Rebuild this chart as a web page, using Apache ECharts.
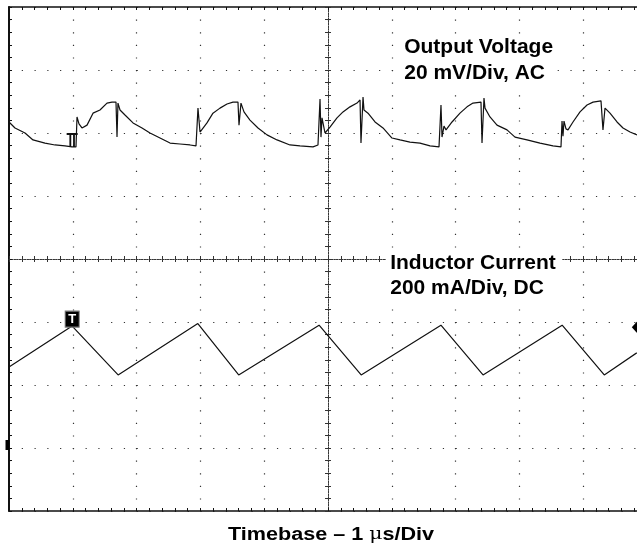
<!DOCTYPE html>
<html>
<head>
<meta charset="utf-8">
<title>Output Voltage and Inductor Current</title>
<script src="https://cdn.jsdelivr.net/npm/echarts@6/dist/echarts.min.js"></script>
<style>
  html, body { margin: 0; padding: 0; background: #fff; }
  #chart { width: 637px; height: 545px; }
</style>
</head>
<body>
<div id="chart"></div>
<script>
// Output voltage ripple, AC coupled (time in µs, voltage in mV)
const voltageTime = [
  -5.000, -4.906, -4.749, -4.624, -4.436, -4.279, -4.122, -4.013, -3.950, -3.934,
  -3.903, -3.856, -3.777, -3.683, -3.574, -3.464, -3.386, -3.323, -3.307, -3.292,
  -3.260, -3.182, -3.056, -2.915, -2.790, -2.633, -2.476, -2.320, -2.163, -2.069,
  -2.038, -2.006, -1.897, -1.803, -1.693, -1.583, -1.489, -1.411, -1.395, -1.364,
  -1.317, -1.223, -1.097, -0.956, -0.799, -0.596, -0.439, -0.235, -0.157, -0.125,
  -0.110, -0.094, -0.047, 0.031, 0.141, 0.235, 0.345, 0.455, 0.502, 0.517,
  0.549, 0.564, 0.627, 0.737, 0.862, 1.003, 1.129, 1.285, 1.442, 1.599,
  1.740, 1.771, 1.787, 1.818, 1.850, 1.944, 2.069, 2.179, 2.273, 2.398,
  2.414, 2.445, 2.461, 2.539, 2.649, 2.806, 2.931, 3.119, 3.323, 3.527,
  3.652, 3.668, 3.683, 3.699, 3.730, 3.762, 3.840, 3.950, 4.060, 4.154,
  4.279, 4.310, 4.342, 4.420, 4.530, 4.624, 4.734, 4.843
];
const voltageMv = [
  3.5, 1.6, 0.0, -2.2, -3.2, -3.8, -4.1, -4.4, -4.4, 5.1,
  2.9, 1.6, 2.5, 6.3, 7.3, 9.5, 9.8, 9.8, -1.3, 9.5,
  7.3, 5.7, 3.2, 1.6, 0.0, -1.6, -3.2, -3.5, -3.8, -4.1,
  7.9, 0.3, 3.2, 6.3, 7.9, 9.2, 9.8, 9.8, 2.5, 9.5,
  6.7, 4.1, 1.6, -0.6, -2.2, -3.8, -4.1, -4.4, -3.8, 10.8,
  -1.3, 4.8, 0.0, 1.9, 4.8, 6.7, 8.3, 9.5, 10.5, -3.2,
  11.4, 7.3, 6.3, 3.5, 1.6, -1.6, -2.2, -2.9, -3.2, -4.1,
  -4.4, 8.9, -1.3, 2.2, 1.0, 3.5, 6.3, 8.3, 9.5, 9.8,
  -3.2, 11.1, 7.9, 5.1, 2.5, 1.0, -1.3, -2.2, -3.2, -4.1,
  -4.4, 3.8, -1.0, 3.8, 1.3, 1.0, 3.5, 6.7, 8.9, 9.8,
  10.2, 1.0, 7.9, 6.3, 3.5, 1.6, 0.3, -0.6
];

// Inductor current, DC coupled (time in µs, current in mA)
const currentTime = [-5.00, -4.01, -3.29, -2.04, -1.40, -0.14, 0.52, 1.77, 2.43, 3.67, 4.33, 4.84];
const currentMa   = [257, 387, 232, 395, 232, 390, 232, 390, 232, 390, 232, 302];

// Trigger point and trigger level
const triggerTime = -4.01;
const triggerLevelMa = 383;

// Screen: 10 × 8 divisions
const timeRange = [-5, 5];         // 1 µs/div
const divRange = [-4, 4];          // vertical divisions
const voltageRange = [-120, 40];   // 20 mV/div
const currentRange = [-200, 1400]; // 200 mA/div

const labels = {
  vTitle: 'Output Voltage',
  vScale: '20 mV/Div, AC',
  iTitle: 'Inductor Current',
  iScale: '200 mA/Div, DC',
  timebase: 'Timebase – 1 μs/Div'
};

const zip = (a, b) => a.map((v, i) => [v, b[i]]);

const INK = '#111';
const DOT = '#333';
const FONT = '"Liberation Sans", Arial, Helvetica, sans-serif';

const hidden = { show: false };

function borderX(position) {
  return {
    type: 'value', gridIndex: 0, position,
    min: timeRange[0], max: timeRange[1], interval: 1,
    axisLine: { show: true, onZero: false, lineStyle: { color: INK, width: 1.5 } },
    axisTick: { show: true, inside: true, length: 3, lineStyle: { color: INK } },
    minorTick: { show: true, splitNumber: 5, length: 3, lineStyle: { color: INK } },
    axisLabel: hidden,
    splitLine: position === 'bottom'
      ? { show: true, lineStyle: { color: DOT, width: 1.2, type: [1.2, 11.4] } }
      : hidden
  };
}

function centerX(inside) {
  return {
    type: 'value', gridIndex: 0, position: 'bottom',
    min: timeRange[0], max: timeRange[1], interval: 1,
    axisLine: { show: true, onZero: true, onZeroAxisIndex: 0,
      lineStyle: { color: DOT, width: 1, type: [1.2, 1.4] } },
    axisTick: { show: true, inside, length: 3, lineStyle: { color: DOT } },
    minorTick: { show: true, splitNumber: 5, length: 3, lineStyle: { color: DOT } },
    axisLabel: hidden, splitLine: hidden
  };
}

function centerY(inside) {
  return {
    type: 'value', gridIndex: 0, position: 'left',
    min: divRange[0], max: divRange[1], interval: 1,
    axisLine: { show: true, onZero: true, onZeroAxisIndex: 0,
      lineStyle: { color: DOT, width: 1, type: [1.2, 1.4] } },
    axisTick: { show: true, inside, length: 3, lineStyle: { color: DOT } },
    minorTick: { show: true, splitNumber: 5, length: 3, lineStyle: { color: DOT } },
    axisLabel: hidden, splitLine: hidden
  };
}

// Channel captions sit on a white plate that hides the graticule behind them
function caption(text, x, y) {
  return {
    type: 'text', x, y, scaleX: 1.05, silent: true, z: 100,
    style: {
      text, font: 'bold 20px ' + FONT, fill: '#000',
      verticalAlign: 'middle', textVerticalAlign: 'middle',
      backgroundColor: '#fff', padding: [3, 6, 3, 4]
    }
  };
}

const option = {
  animation: false,
  backgroundColor: '#fff',
  grid: {
    left: 9, top: 7, right: -10, bottom: 34,
    show: false, containLabel: false, outerBoundsMode: 'none'
  },
  xAxis: [
    borderX('bottom'),
    borderX('top'),
    centerX(true),
    centerX(false)
  ],
  yAxis: [
    {
      type: 'value', gridIndex: 0, position: 'left',
      min: divRange[0], max: divRange[1], interval: 1,
      axisLine: { show: true, onZero: false, lineStyle: { color: INK, width: 2 } },
      axisTick: { show: true, inside: true, length: 3, lineStyle: { color: INK } },
      minorTick: { show: true, splitNumber: 5, length: 3, lineStyle: { color: INK } },
      axisLabel: hidden,
      splitLine: { show: true, lineStyle: { color: DOT, width: 1.2, type: [1.2, 11.56] } }
    },
    { type: 'value', gridIndex: 0, show: false, min: voltageRange[0], max: voltageRange[1] },
    { type: 'value', gridIndex: 0, show: false, min: currentRange[0], max: currentRange[1] },
    centerY(true),
    centerY(false)
  ],
  series: [
    {
      name: labels.vTitle,
      type: 'line',
      xAxisIndex: 0, yAxisIndex: 1,
      data: zip(voltageTime, voltageMv),
      showSymbol: false,
      lineStyle: { color: INK, width: 1.2 },
      markPoint: {
        silent: true,
        data: [{
          coord: [triggerTime, -2.2],
          symbol: 'path://M0,0H12V2H0Z M3,0H5V14H3Z M7,0H9V14H7Z',
          symbolSize: [11, 14],
          itemStyle: { color: INK },
          label: { show: false }
        }]
      }
    },
    {
      name: labels.iTitle,
      type: 'line',
      xAxisIndex: 0, yAxisIndex: 2,
      data: zip(currentTime, currentMa),
      showSymbol: false,
      lineStyle: { color: INK, width: 1.2 },
      markPoint: {
        silent: true,
        data: [
          {
            coord: [triggerTime, currentMa[1]],
            symbol: 'rect', symbolSize: [14, 16], symbolOffset: [0, -7],
            itemStyle: { color: '#000', borderColor: '#777', borderWidth: 1 },
            label: { show: true, position: 'inside', formatter: 'T', color: '#fff',
              fontWeight: 'bold', fontSize: 13, fontFamily: FONT }
          },
          {
            coord: [timeRange[0], 0],
            symbol: 'rect', symbolSize: [4, 10], symbolOffset: [-1.5, -3],
            itemStyle: { color: '#000' }, label: { show: false }
          },
          {
            coord: [currentTime[currentTime.length - 1], triggerLevelMa],
            symbol: 'diamond', symbolSize: [10, 11],
            itemStyle: { color: '#000' }, label: { show: false }
          }
        ]
      }
    }
  ],
  graphic: [
    caption(labels.vTitle, 400, 47.5),
    caption(labels.vScale, 400, 73),
    caption(labels.iTitle, 386, 263.5),
    caption(labels.iScale, 386, 288.5),
    {
      type: 'text', x: 331, y: 535, scaleX: 1.2, silent: true,
      style: {
        text: '{b|Timebase – 1 }{m|μ}{b|s/Div}',
        align: 'center', textAlign: 'center',
        verticalAlign: 'middle', textVerticalAlign: 'middle',
        rich: {
          b: { fontFamily: FONT, fontWeight: 'bold', fontSize: 18, color: '#000' },
          m: { fontFamily: '"DejaVu Serif", serif', fontWeight: 'normal', fontSize: 17, color: '#000' }
        }
      }
    }
  ]
};

const chart = echarts.init(document.getElementById('chart'), null, { renderer: 'canvas' });
chart.setOption(option);
</script>
</body>
</html>
